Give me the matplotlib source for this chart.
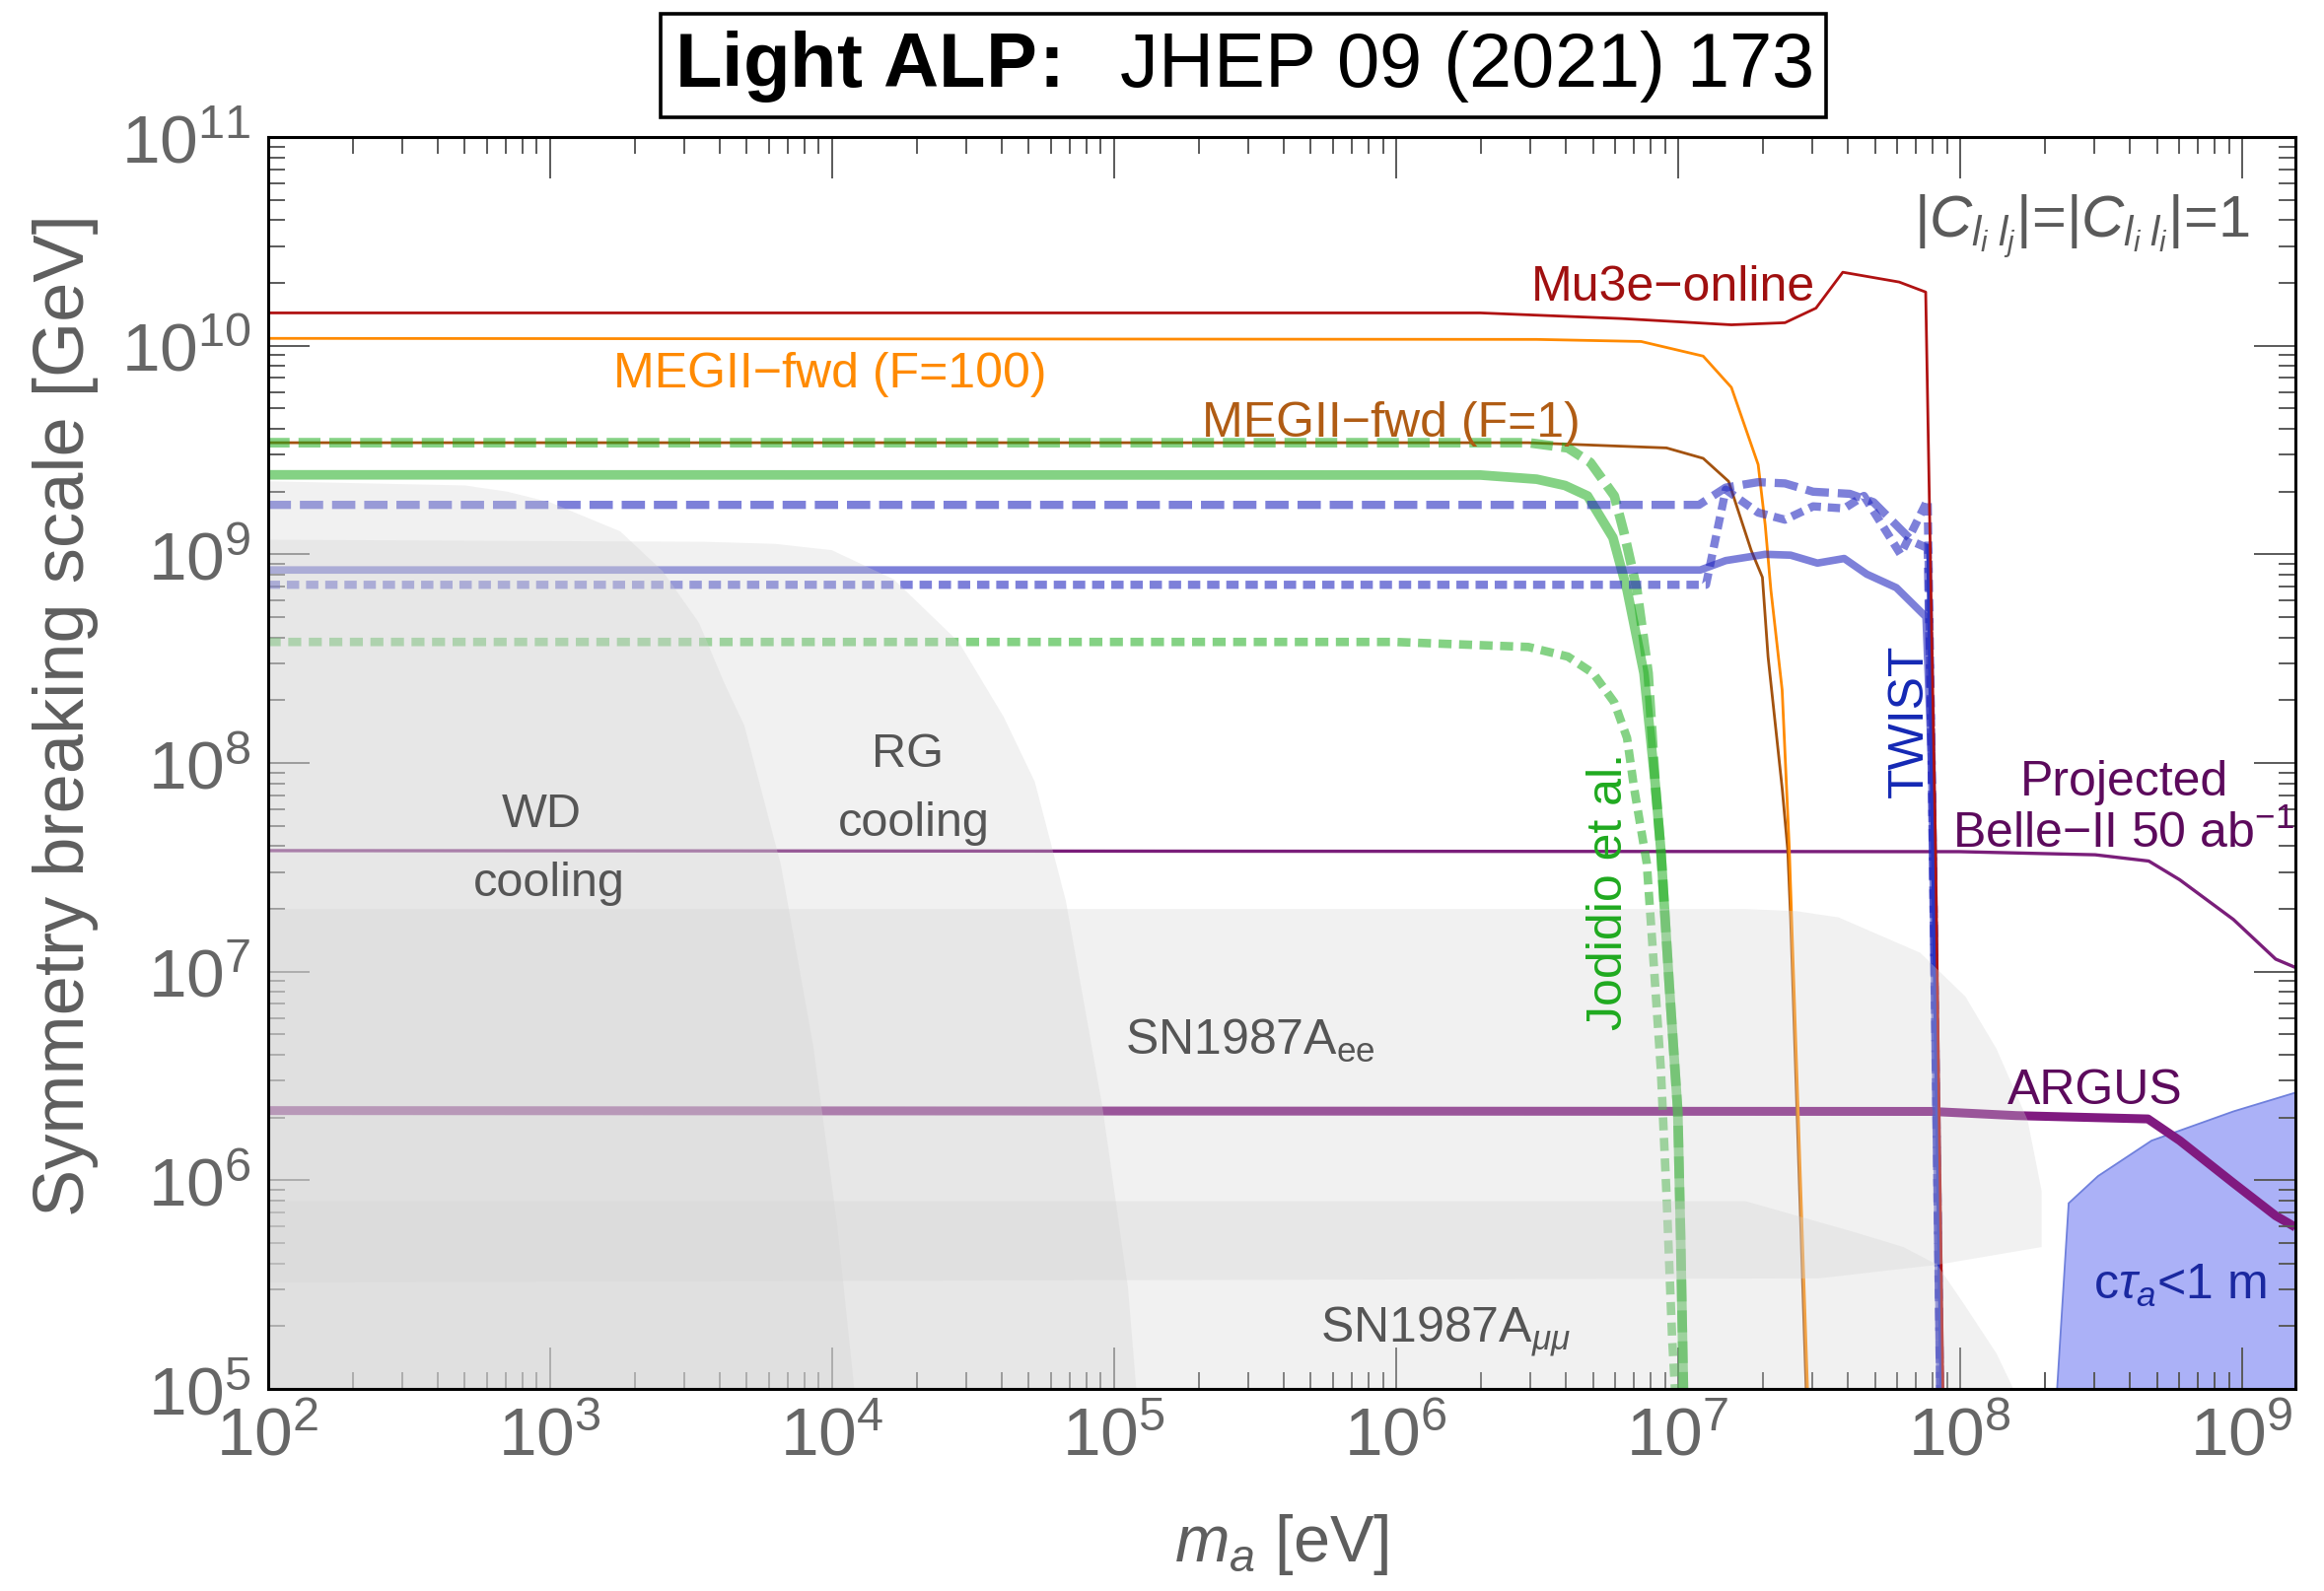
import numpy as np
import matplotlib
matplotlib.use('Agg')
import matplotlib.pyplot as plt
from matplotlib.ticker import LogLocator, NullFormatter

plt.rcParams['font.family'] = ['Liberation Sans', 'DejaVu Sans']
plt.rcParams['mathtext.fontset'] = 'custom'
plt.rcParams['mathtext.rm'] = 'Liberation Sans'
plt.rcParams['mathtext.it'] = 'Liberation Sans:italic'
plt.rcParams['mathtext.bf'] = 'Liberation Sans:bold'
plt.rcParams['lines.scale_dashes'] = False

# all values are log10(m_a / eV) and log10(f / GeV)
mu3e_x = [2, 6.3, 6.8, 7.19, 7.38, 7.49, 7.585, 7.785, 7.879, 7.914, 7.94]
mu3e_y = [10.157, 10.157, 10.13, 10.10, 10.11, 10.18, 10.352, 10.305, 10.257, 7.58, 5.0]

meg100_x = [2, 6.5, 6.87, 7.09, 7.19, 7.285, 7.31, 7.33, 7.37, 7.395, 7.46]
meg100_y = [10.035, 10.03, 10.02, 9.95, 9.80, 9.43, 9.14, 8.83, 8.35, 7.6, 5.0]

meg1_x = [2, 6.47, 6.96, 7.09, 7.18, 7.26, 7.30, 7.32, 7.37, 7.39, 7.40, 7.455]
meg1_y = [9.535, 9.535, 9.51, 9.46, 9.35, 9.02, 8.89, 8.51, 7.88, 7.58, 7.26, 5.0]

jod_solid_x = [2, 6.3, 6.5, 6.6, 6.68, 6.77, 6.82, 6.88, 6.92, 6.94, 6.97, 7.0, 7.01, 7.02]
jod_solid_y = [9.381, 9.38, 9.36, 9.33, 9.28, 9.08, 8.83, 8.43, 7.9, 7.58, 6.93, 6.33, 5.73, 5.0]

jod_dash_x = [2, 6.47, 6.61, 6.69, 6.775, 6.81, 6.855, 6.895, 6.92, 6.94, 6.97, 7.0, 7.01, 7.02]
jod_dash_y = [9.535, 9.535, 9.51, 9.44, 9.28, 9.10, 8.83, 8.43, 7.9, 7.58, 6.93, 6.33, 5.73, 5.0]

jod_dot_x = [2, 6.0, 6.47, 6.61, 6.70, 6.775, 6.82, 6.845, 6.89, 6.91, 6.94, 6.96, 6.98, 6.99]
jod_dot_y = [8.58, 8.58, 8.556, 8.51, 8.43, 8.29, 8.12, 7.88, 7.52, 7.13, 6.53, 5.93, 5.24, 5.0]

tw_dash_x = [2, 7.075, 7.17, 7.285, 7.38, 7.48, 7.61, 7.694, 7.834, 7.886, 7.90, 7.93]
tw_dash_y = [9.237, 9.237, 9.32, 9.346, 9.34, 9.30, 9.29, 9.25, 9.06, 9.03, 8.0, 5.0]

tw_solid_x = [2, 7.08, 7.17, 7.31, 7.40, 7.495, 7.59, 7.67, 7.775, 7.88, 7.90, 7.93]
tw_solid_y = [8.925, 8.925, 8.97, 9.0, 8.996, 8.958, 8.98, 8.905, 8.84, 8.70, 8.0, 5.0]

tw_dot_x = [2, 7.10, 7.17, 7.285, 7.38, 7.48, 7.59, 7.66, 7.79, 7.886, 7.90, 7.93]
tw_dot_y = [8.854, 8.854, 9.31, 9.20, 9.166, 9.23, 9.22, 9.28, 9.0, 9.26, 8.0, 5.0]

twist_x = [7.888, 7.935]
twist_y = [9.04, 5.0]

belle_x = [2, 8.0, 8.48, 8.67, 8.78, 8.97, 9.12, 9.19]
belle_y = [7.58, 7.575, 7.56, 7.53, 7.44, 7.25, 7.06, 7.02]

argus_x = [2, 7.9, 8.2, 8.49, 8.667, 8.78, 8.97, 9.12, 9.19]
argus_y = [6.334, 6.33, 6.31, 6.30, 6.294, 6.19, 5.987, 5.83, 5.775]

ctau_x = [8.345, 8.386, 8.49, 8.68, 8.97, 9.19, 9.19]
ctau_y = [5.0, 5.89, 6.02, 6.19, 6.33, 6.42, 5.0]

wd_x = [2, 2.7, 2.85, 3.0, 3.25, 3.4, 3.53, 3.62, 3.69, 3.82, 3.935, 4.02, 4.08, 2]
wd_y = [9.35, 9.33, 9.30, 9.25, 9.11, 8.92, 8.67, 8.38, 8.18, 7.51, 6.64, 5.78, 5.0, 5.0]

rg_x = [2, 3.55, 3.8, 4.0, 4.22, 4.45, 4.61, 4.72, 4.83, 4.96, 5.05, 5.08, 2]
rg_y = [9.07, 9.06, 9.05, 9.02, 8.88, 8.58, 8.22, 7.91, 7.34, 6.35, 5.49, 5.0, 5.0]

snee_x = [2, 7.24, 7.42, 7.57, 7.86, 8.02, 8.13, 8.24, 8.29, 8.29, 7.92, 7.5, 2]
snee_y = [7.30, 7.30, 7.29, 7.26, 7.09, 6.88, 6.63, 6.29, 5.95, 5.68, 5.595, 5.53, 5.51]

snmm_x = [2, 7.24, 7.63, 7.80, 7.92, 8.015, 8.13, 8.19, 2]
snmm_y = [5.90, 5.90, 5.75, 5.68, 5.595, 5.406, 5.17, 5.0, 5.0]


def L(v):
    return 10 ** np.asarray(v, dtype=float)


fig = plt.figure(figsize=(23.57, 16.15), dpi=100)
ax = fig.add_axes([0.11519, 0.12693, 0.87251, 0.78638])
ax.set_xscale('log')
ax.set_yscale('log')

# excluded region for prompt decays
ax.fill(L(ctau_x), L(ctau_y), facecolor='#ABB1F7', edgecolor='#6F80DC', lw=1.3, zorder=1.2)

# experimental curves
blue = (0.12, 0.14, 0.75)
green = (0.12, 0.68, 0.12)
ax.plot(L(belle_x), L(belle_y), color='#7A1E7A', lw=2.4, zorder=1.5)
ax.plot(L(argus_x), L(argus_y), color='#801A80', lw=6.5, solid_capstyle='butt', zorder=1.5)
ax.plot(L(jod_dot_x), L(jod_dot_y), color=green, alpha=0.55, lw=6.2, dashes=(9.5, 5.5), dash_capstyle='butt', zorder=1.6)
ax.plot(L(jod_solid_x), L(jod_solid_y), color=green, alpha=0.55, lw=7.0, zorder=1.6)
ax.plot(L(meg1_x), L(meg1_y), color='#A3520E', lw=2.0, zorder=1.6)
ax.plot(L(jod_dash_x), L(jod_dash_y), color=green, alpha=0.55, lw=7.0, dashes=(16, 6.5), dash_capstyle='butt', zorder=1.7)
ax.plot(L(meg100_x), L(meg100_y), color='#FF8A00', lw=2.0, zorder=1.7)
ax.plot(L(tw_solid_x), L(tw_solid_y), color=blue, alpha=0.58, lw=5.5, zorder=1.7)
ax.plot(L(tw_dash_x), L(tw_dash_y), color=blue, alpha=0.58, lw=6.0, dashes=(17, 6.5), dash_capstyle='butt', zorder=1.7)
ax.plot(L(tw_dot_x), L(tw_dot_y), color=blue, alpha=0.58, lw=6.0, dashes=(9, 5), dash_capstyle='butt', zorder=1.7)
ax.plot(L(twist_x), L(twist_y), color='#2B35C0', lw=3.0, zorder=1.8)
ax.plot(L(mu3e_x), L(mu3e_y), color='#B01212', lw=2.0, zorder=1.8)

# astrophysical bounds, drawn over the lines
gray = (212 / 255, 212 / 255, 212 / 255)
for rx, ry in [(wd_x, wd_y), (rg_x, rg_y), (snee_x, snee_y), (snmm_x, snmm_y)]:
    ax.fill(L(rx), L(ry), color=gray, alpha=0.32, lw=0, zorder=2.0)

ax.set_xlim(1e2, 10 ** 9.19)
ax.set_ylim(1e5, 1e11)

for axis in (ax.xaxis, ax.yaxis):
    axis.set_major_locator(LogLocator(base=10, numticks=20))
    axis.set_minor_locator(LogLocator(base=10, subs=np.arange(2, 10), numticks=20))
    axis.set_minor_formatter(NullFormatter())
ax.tick_params(which='both', direction='in', top=True, right=True, color='#5a5a5a')
ax.tick_params(which='major', length=30, width=1.4, labelsize=50, labelcolor='#666666')
ax.tick_params(which='minor', length=12, width=1.4)
ax.tick_params(axis='x', which='major', pad=12)
ax.tick_params(axis='y', which='major', pad=12)
for s in ax.spines.values():
    s.set_linewidth(2.2)
    s.set_color('black')

ax.set_xlabel(r'$m_a$ [eV]', fontsize=48, color='#5e5e5e')
ax.set_ylabel('Symmetry breaking scale [GeV]', fontsize=52, color='#5e5e5e')
ax.xaxis.set_label_coords(0.5, -0.098)
ax.yaxis.set_label_coords(-0.0834, 0.539)

fig.text(0.535, 0.958, r'$\mathbf{Light\ ALP\!:}$  JHEP 09 (2021) 173', fontsize=56,
         ha='center', va='center', color='black',
         bbox=dict(boxstyle='square,pad=0.18', fc='white', ec='black', lw=2.6))

# labels
tk = dict(zorder=5)
ax.text(10 ** 9.026, 10 ** 10.527, r'$|C_{l_i\;l_j}|$=$|C_{l_i\;l_i}|$=1', fontsize=43,
        color='#5a5a5a', ha='right', va='baseline', **tk)
ax.text(10 ** 7.487, 10 ** 10.22, 'Mu3e\u2212online', fontsize=36, color='#A01010',
        ha='right', va='baseline', **tk)
ax.text(10 ** 3.995, 10 ** 9.804, 'MEGII\u2212fwd (F=100)', fontsize=36, color='#FF8A00',
        ha='center', va='baseline', **tk)
ax.text(10 ** 5.984, 10 ** 9.568, 'MEGII\u2212fwd (F=1)', fontsize=36, color='#B05C14',
        ha='center', va='baseline', **tk)
ax.text(10 ** 6.757, 10 ** 7.39, 'Jodidio et al.', fontsize=36, color='#1FAA1F',
        rotation=90, ha='center', va='center', **tk)
ax.text(10 ** 7.823, 10 ** 8.207, 'TWIST', fontsize=36, color='#1428B4',
        rotation=90, ha='center', va='center', **tk)
ax.text(10 ** 8.583, 10 ** 7.848, 'Projected', fontsize=36, color='#5C0A5C',
        ha='center', va='baseline', **tk)
ax.text(10 ** 8.579, 10 ** 7.598, 'Belle\u2212II 50 ab$^{-1}$', fontsize=36, color='#5C0A5C',
        ha='center', va='baseline', **tk)
ax.text(10 ** 8.481, 10 ** 6.37, 'ARGUS', fontsize=36, color='#5C0A5C',
        ha='center', va='baseline', **tk)
ax.text(10 ** 8.781, 10 ** 5.435, r'c$\tau_a$<1 m', fontsize=36, color='#1A28A0',
        ha='center', va='baseline', **tk)
ax.text(10 ** 2.97, 10 ** 7.697, 'WD', fontsize=35, color='#555555', ha='center', va='baseline', **tk)
ax.text(10 ** 2.998, 10 ** 7.367, 'cooling', fontsize=35, color='#555555', ha='center', va='baseline', **tk)
ax.text(10 ** 4.269, 10 ** 7.985, 'RG', fontsize=35, color='#555555', ha='center', va='baseline', **tk)
ax.text(10 ** 4.292, 10 ** 7.655, 'cooling', fontsize=35, color='#555555', ha='center', va='baseline', **tk)
ax.text(10 ** 5.04, 10 ** 6.606, r'SN1987A$_\mathrm{ee}$', fontsize=36, color='#555555',
        ha='left', va='baseline', **tk)
ax.text(10 ** 5.733, 10 ** 5.231, r'SN1987A$_{\mu\mu}$', fontsize=36, color='#555555',
        ha='left', va='baseline', **tk)

fig.savefig('out.png', dpi=100)
